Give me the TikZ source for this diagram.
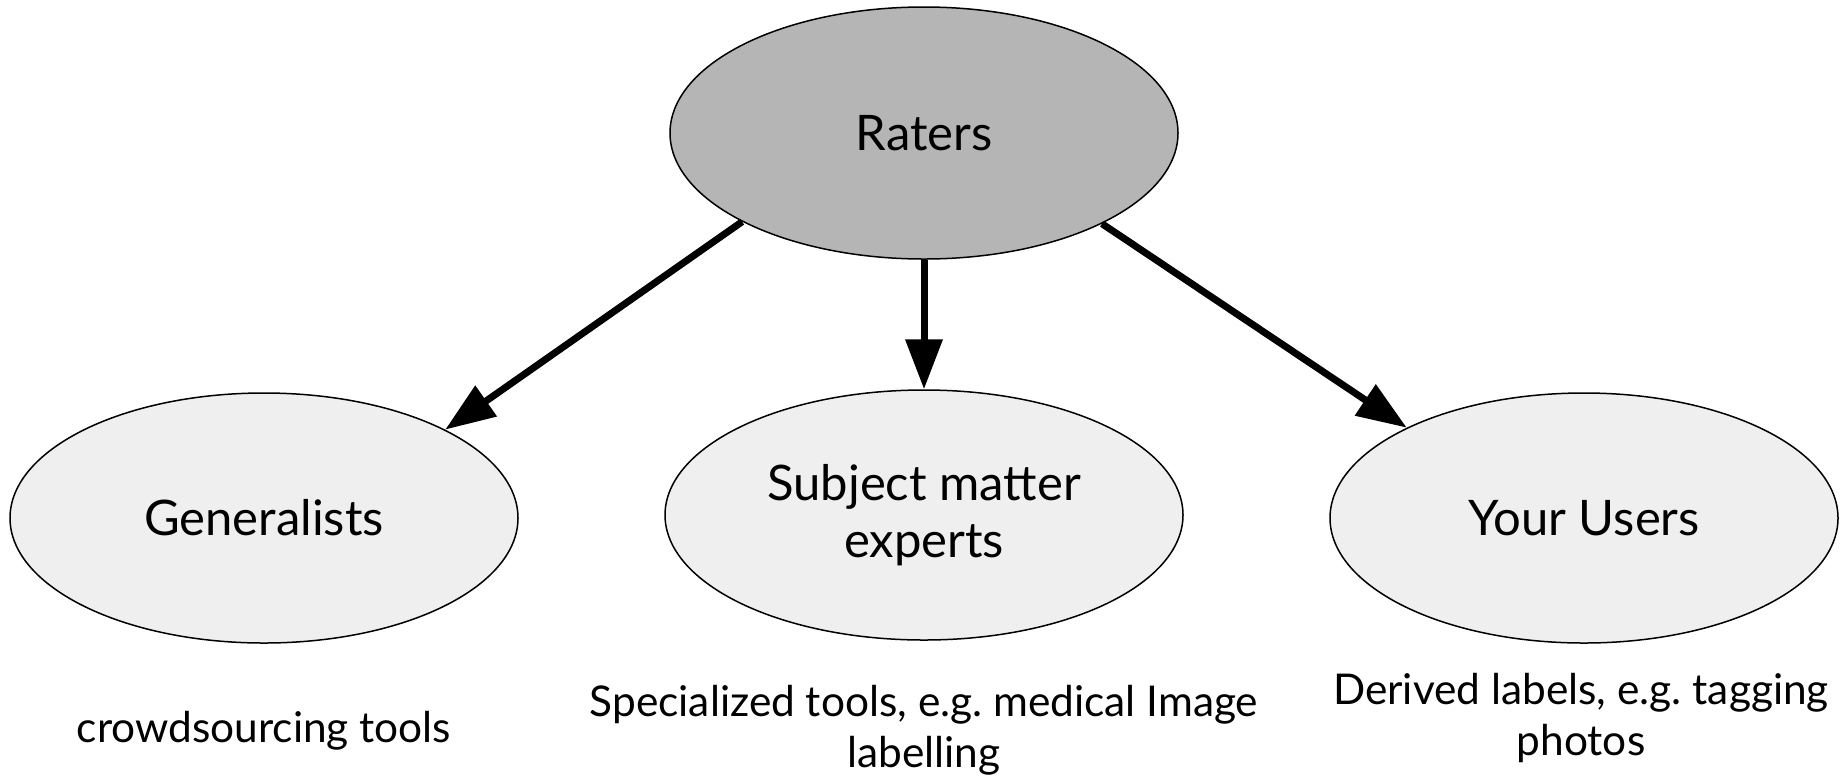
\documentclass[tikz,border=0pt]{standalone}
\usepackage{fontspec}
\setmainfont{Lato}
\frenchspacing
\usetikzlibrary{shapes.geometric,arrows.meta}
\definecolor{raterfill}{HTML}{B5B5B5}
\definecolor{groupfill}{HTML}{EFEFEF}
\begin{document}
\begin{tikzpicture}[x=0.5pt,y=-0.5pt,
  blob/.style={ellipse,draw=black,line width=0.75pt,inner sep=0pt,
    minimum width=254pt,minimum height=125pt,align=center,
    font=\fontsize{24.5}{28.5}\selectfont},
  note/.style={align=center,inner sep=0pt,font=\fontsize{21.2}{25.5}\selectfont},
  link/.style={line width=3.5pt,-{Triangle[length=25pt,width=18pt]}}]
\useasboundingbox (0,0) rectangle (1841,778);
\node[blob,fill=raterfill,minimum height=126pt] (raters) at (924,133) {Raters};
\node[blob,fill=groupfill] (gen) at (264,518) {Generalists};
\node[blob,fill=groupfill,minimum width=259pt] (sme) at (924,515) {Subject matter\\experts};
\node[blob,fill=groupfill] (users) at (1584,518) {Your Users};
\node[note] (gennote) at (264,731) {crowdsourcing tools};
\node[note] (smenote) at (924,730) {Specialized tools, e.g. medical Image\\labelling};
\node[note] (usernote) at (1581,718) {Derived labels, e.g. tagging\\photos};
\draw[link] (raters.206.7) -- (gen.26.4);
\draw[link] (raters.south) -- (sme.north);
\draw[link] (raters.333.3) -- (users.153.6);
\end{tikzpicture}
\end{document}
